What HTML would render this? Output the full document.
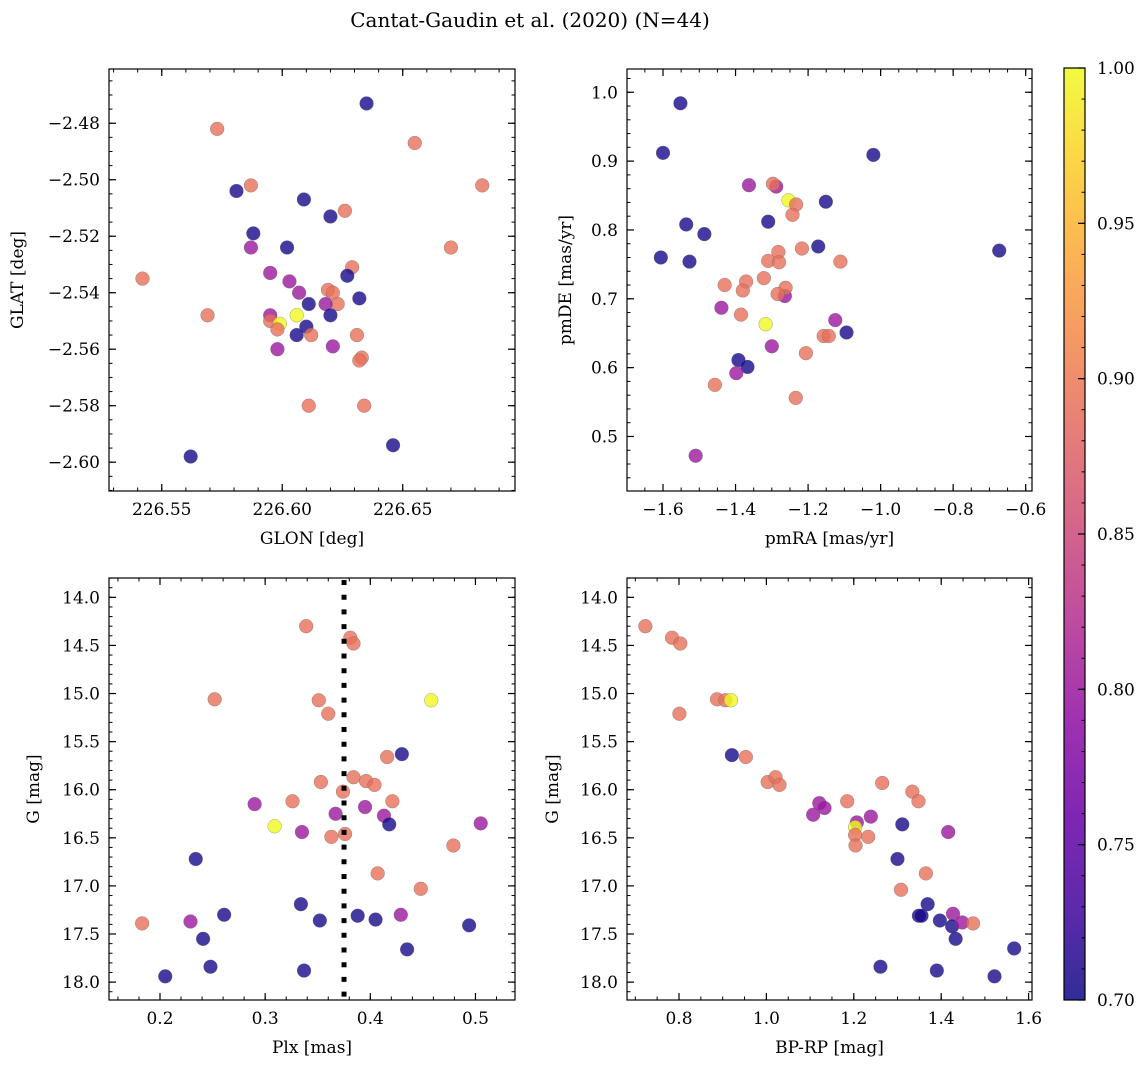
<!DOCTYPE html>
<html><head><meta charset="utf-8"><style>
html,body{margin:0;padding:0;background:#fff;overflow:hidden;width:1148px;height:1068px;}
svg{display:block;}
svg text{font-family:"DejaVu Serif","Liberation Serif",serif;fill:#000;}
</style></head><body>
<svg id="fig" width="1148" height="1068" xmlns="http://www.w3.org/2000/svg">
<defs>
<linearGradient id="plasmaGrad" x1="0" y1="1" x2="0" y2="0">
<stop offset="0" stop-color="#0d0887"/><stop offset="0.1" stop-color="#41049d"/><stop offset="0.2" stop-color="#6a00a8"/><stop offset="0.3" stop-color="#8f0da4"/><stop offset="0.4" stop-color="#b12a90"/><stop offset="0.5" stop-color="#cc4778"/><stop offset="0.6" stop-color="#e16462"/><stop offset="0.7" stop-color="#f2844b"/><stop offset="0.8" stop-color="#fca636"/><stop offset="0.9" stop-color="#fcce25"/><stop offset="1" stop-color="#f0f921"/>
</linearGradient>
</defs>
<text x="530" y="27" font-size="20" text-anchor="middle">Cantat-Gaudin et al. (2020) (N=44)</text>
</svg>
<script>
const B=0.705,P=0.80,O=0.89,Y=1.0;
// Panel 1: GLON vs GLAT
const p1_glon=[226.635,226.573,226.655,226.683,226.587,226.581,226.609,226.626,226.620,226.588,226.587,226.602,226.670,226.542,226.595,226.629,226.627,226.603,226.607,226.619,226.621,226.623,226.632,226.611,226.618,226.620,226.569,226.595,226.606,226.595,226.599,226.598,226.610,226.606,226.612,226.631,226.598,226.621,226.633,226.632,226.611,226.634,226.646,226.562];
const p1_glat=[-2.473,-2.482,-2.487,-2.502,-2.502,-2.504,-2.507,-2.511,-2.513,-2.519,-2.524,-2.524,-2.524,-2.535,-2.533,-2.531,-2.534,-2.536,-2.540,-2.539,-2.540,-2.544,-2.542,-2.544,-2.544,-2.548,-2.548,-2.548,-2.548,-2.550,-2.551,-2.553,-2.552,-2.555,-2.555,-2.555,-2.560,-2.559,-2.563,-2.564,-2.580,-2.580,-2.594,-2.598];
const p1_prob=[B,O,O,O,O,B,B,O,B,B,P,B,O,O,P,O,B,P,P,O,O,O,B,B,P,B,O,P,Y,O,Y,O,B,B,O,O,P,P,O,O,O,O,B,B];
// Panel 2: pmRA vs pmDE
const p2_pmra=[-1.552,-1.600,-1.020,-1.363,-1.288,-1.297,-1.254,-1.233,-1.151,-1.243,-1.536,-1.310,-1.486,-1.606,-1.527,-1.172,-1.217,-1.282,-0.673,-1.310,-1.280,-1.111,-1.322,-1.371,-1.430,-1.264,-1.262,-1.380,-1.284,-1.439,-1.385,-1.125,-1.317,-1.157,-1.143,-1.094,-1.300,-1.206,-1.392,-1.367,-1.398,-1.457,-1.234,-1.510];
const p2_pmde=[0.984,0.912,0.909,0.865,0.863,0.867,0.843,0.837,0.841,0.822,0.808,0.812,0.794,0.760,0.754,0.776,0.773,0.768,0.770,0.755,0.753,0.754,0.730,0.725,0.720,0.704,0.716,0.712,0.707,0.687,0.677,0.669,0.663,0.646,0.646,0.651,0.631,0.621,0.611,0.601,0.592,0.575,0.556,0.472];
const p2_prob=[B,B,B,P,P,O,Y,O,B,O,B,B,B,B,B,B,O,O,B,O,O,O,O,O,O,P,O,O,O,P,O,P,Y,O,O,B,P,O,B,B,P,O,O,P];
// Panel 3: Plx vs G
const p3_plx=[0.339,0.381,0.384,0.252,0.351,0.458,0.360,0.430,0.416,0.353,0.384,0.396,0.404,0.374,0.290,0.326,0.421,0.395,0.367,0.413,0.418,0.505,0.309,0.335,0.376,0.363,0.479,0.234,0.407,0.448,0.334,0.261,0.429,0.388,0.352,0.405,0.183,0.229,0.494,0.241,0.435,0.248,0.205,0.337];
const p3_g=[14.30,14.42,14.48,15.06,15.07,15.07,15.21,15.63,15.66,15.92,15.87,15.91,15.95,16.02,16.15,16.12,16.12,16.18,16.25,16.27,16.36,16.35,16.38,16.44,16.46,16.49,16.58,16.72,16.87,17.03,17.19,17.30,17.30,17.31,17.36,17.35,17.39,17.37,17.41,17.55,17.66,17.84,17.94,17.88];
const p3_prob=[O,O,O,O,O,Y,O,B,O,O,O,O,O,O,P,O,O,P,P,P,B,P,Y,P,O,O,O,B,O,O,B,B,P,B,B,B,O,P,B,B,B,B,B,B];
const p3_meanPlx=0.375;
// Panel 4: BP-RP vs G
const p4_bprp=[0.723,0.784,0.803,0.887,0.906,0.919,0.801,0.921,0.953,1.003,1.021,1.030,1.265,1.334,1.348,1.185,1.121,1.133,1.107,1.207,1.239,1.311,1.203,1.416,1.203,1.233,1.204,1.300,1.365,1.308,1.369,1.349,1.355,1.427,1.397,1.425,1.448,1.473,1.433,1.567,1.261,1.390,1.522];
const p4_g=[14.30,14.42,14.48,15.06,15.07,15.07,15.21,15.64,15.66,15.92,15.87,15.95,15.93,16.02,16.12,16.12,16.14,16.19,16.26,16.34,16.28,16.36,16.39,16.44,16.47,16.49,16.58,16.72,16.87,17.04,17.19,17.31,17.31,17.29,17.36,17.42,17.38,17.39,17.55,17.65,17.84,17.88,17.94];
const p4_prob=[O,O,O,O,O,Y,O,B,O,O,O,O,O,O,O,O,P,P,P,P,P,B,Y,P,O,O,O,B,O,O,B,B,B,P,B,B,P,O,B,B,B,B,B];
// Tick arrays
const p1_xticks=[226.55,226.60,226.65];
const p1_yticks=[-2.48,-2.50,-2.52,-2.54,-2.56,-2.58,-2.60];
const p2_xticks=[-1.6,-1.4,-1.2,-1.0,-0.8,-0.6];
const p2_yticks=[1.0,0.9,0.8,0.7,0.6,0.5];
const p3_xticks=[0.2,0.3,0.4,0.5];
const g_yticks=[14.0,14.5,15.0,15.5,16.0,16.5,17.0,17.5,18.0];
const p4_xticks=[0.8,1.0,1.2,1.4,1.6];
const cb_ticks=[0.70,0.75,0.80,0.85,0.90,0.95,1.00];

const NS="http://www.w3.org/2000/svg";
const svg=document.getElementById('fig');
function mk(tag,attrs,parent){const e=document.createElementNS(NS,tag);for(const k in attrs)e.setAttribute(k,attrs[k]);(parent||svg).appendChild(e);return e;}
const stops=[[0,[13,8,135]],[0.1,[65,4,157]],[0.2,[106,0,168]],[0.3,[143,13,164]],[0.4,[177,42,144]],[0.5,[204,71,120]],[0.6,[225,100,98]],[0.7,[242,132,75]],[0.8,[252,166,54]],[0.9,[252,206,37]],[1.0,[240,249,33]]];
function plasma(p){let t=Math.max(0,Math.min(1,(p-0.7)/0.3));for(let i=0;i<stops.length-1;i++){const a=stops[i],b=stops[i+1];if(t<=b[0]){const f=(t-a[0])/(b[0]-a[0]);const c=a[1].map((v,j)=>Math.round(v+(b[1][j]-v)*f));return `rgb(${c[0]},${c[1]},${c[2]})`;}}return 'rgb(240,249,33)';}
function fmt(v,d){return v.toFixed(d).replace('-','\u2212');}

function panel(cfg){
  const g=mk('g',{});
  
  
  const {x0,x1,y0,y1,xmin,xmax,ymin,ymax}=cfg;
  const sx=v=>x0+(v-xmin)/(xmax-xmin)*(x1-x0);
  const sy=cfg.invert ? (v=>y0+(v-ymin)/(ymax-ymin)*(y1-y0)) : (v=>y1-(v-ymin)/(ymax-ymin)*(y1-y0));
  for(let i=0;i<cfg.xs.length;i++){
    const c=mk('circle',{cx:sx(cfg.xs[i]),cy:sy(cfg.ys[i]),r:6.9,fill:plasma(cfg.cs[i]),'fill-opacity':0.8,stroke:'#666','stroke-opacity':0.6,'stroke-width':0.5},g);
    
    
  }
  if(cfg.vline!==undefined){
    const l=mk('line',{x1:sx(cfg.vline),x2:sx(cfg.vline),y1:y0+2,y2:y1,stroke:'#000','stroke-width':5,'stroke-dasharray':'5 9.7'},g);
    
    
  }
  const fr=mk('rect',{x:x0,y:y0,width:x1-x0,height:y1-y0,fill:'none',stroke:'#000','stroke-width':1.2},g);
  
  
  const mstep=cfg.xminor, ystep=cfg.yminor;
  for(let k=Math.ceil(xmin/mstep-1e-6);k*mstep<=xmax+1e-9;k++){const X=sx(k*mstep);
    mk('line',{x1:X,x2:X,y1:y1,y2:y1-3.5,stroke:'#000','stroke-width':1},g);mk('line',{x1:X,x2:X,y1:y0,y2:y0+3.5,stroke:'#000','stroke-width':1},g);}
  for(let k=Math.ceil(ymin/ystep-1e-6);k*ystep<=ymax+1e-9;k++){const Yp=sy(k*ystep);
    mk('line',{x1:x0,x2:x0+3.5,y1:Yp,y2:Yp,stroke:'#000','stroke-width':1},g);mk('line',{x1:x1,x2:x1-3.5,y1:Yp,y2:Yp,stroke:'#000','stroke-width':1},g);}
  cfg.xticks.forEach(v=>{const X=sx(v);
    mk('line',{x1:X,x2:X,y1:y1,y2:y1-7,stroke:'#000','stroke-width':1.2},g);mk('line',{x1:X,x2:X,y1:y0,y2:y0+7,stroke:'#000','stroke-width':1.2},g);
    const t=mk('text',{x:X,y:y1+24,'font-size':17,'text-anchor':'middle'},g);t.textContent=fmt(v,cfg.xd);
    
    });
  cfg.yticks.forEach(v=>{const Yp=sy(v);
    mk('line',{x1:x0,x2:x0+7,y1:Yp,y2:Yp,stroke:'#000','stroke-width':1.2},g);mk('line',{x1:x1,x2:x1-7,y1:Yp,y2:Yp,stroke:'#000','stroke-width':1.2},g);
    const t=mk('text',{x:x0-9,y:Yp+6,'font-size':17,'text-anchor':'end'},g);t.textContent=fmt(v,cfg.yd);
    
    });
  const xl=mk('text',{x:(x0+x1)/2,y:y1+53,'font-size':17,'text-anchor':'middle'},g);xl.textContent=cfg.xlabel;
  
  
  const yl=mk('text',{x:cfg.ylx,y:(y0+y1)/2,'font-size':17,'text-anchor':'middle',transform:`rotate(-90 ${cfg.ylx} ${(y0+y1)/2})`},g);yl.textContent=cfg.ylabel;
  
  
}

panel({name:'glon-glat-panel',x0:109,x1:515,y0:69,y1:491,xmin:226.5281,xmax:226.6966,ymin:-2.6102,ymax:-2.4608,xs:p1_glon,ys:p1_glat,cs:p1_prob,xticks:p1_xticks,yticks:p1_yticks,xd:2,yd:2,xminor:0.01,yminor:0.005,xlabel:'GLON [deg]',ylabel:'GLAT [deg]',ylx:23});
panel({name:'proper-motion-panel',x0:627,x1:1032,y0:69,y1:491,xmin:-1.6993,xmax:-0.5826,ymin:0.4208,ymax:1.0338,xs:p2_pmra,ys:p2_pmde,cs:p2_prob,xticks:p2_xticks,yticks:p2_yticks,xd:1,yd:1,xminor:0.05,yminor:0.02,xlabel:'pmRA [mas/yr]',ylabel:'pmDE [mas/yr]',ylx:571});
panel({name:'parallax-mag-panel',x0:109,x1:515,y0:578,y1:1000,xmin:0.1515,xmax:0.5376,ymin:13.799,ymax:18.186,xs:p3_plx,ys:p3_g,cs:p3_prob,xticks:p3_xticks,yticks:g_yticks,xd:1,yd:1,xminor:0.02,yminor:0.1,xlabel:'Plx [mas]',ylabel:'G [mag]',ylx:39,vline:p3_meanPlx,invert:true});
panel({name:'cmd-panel',x0:627,x1:1032,y0:578,y1:1000,xmin:0.681,xmax:1.6078,ymin:13.799,ymax:18.186,xs:p4_bprp,ys:p4_g,cs:p4_prob,xticks:p4_xticks,yticks:g_yticks,xd:1,yd:1,xminor:0.05,yminor:0.1,xlabel:'BP-RP [mag]',ylabel:'G [mag]',ylx:558,invert:true});

// Colorbar
(function(){
  const cx0=1064,cx1=1085,cy0=68,cy1=1000,vmin=0.70,vmax=1.00;
  const cy=v=>cy1-(v-vmin)/(vmax-vmin)*(cy1-cy0);
  const g=mk('g',{});
  
  
  const r=mk('rect',{x:cx0,y:cy0,width:cx1-cx0,height:cy1-cy0,fill:'url(#plasmaGrad)','fill-opacity':0.85,stroke:'#000','stroke-width':1.2},g);
  
  
  for(let k=70;k<=100;k++){const Yp=cy(k/100);
    mk('line',{x1:cx1,x2:cx1-3.5,y1:Yp,y2:Yp,stroke:'#000','stroke-width':1},g);}
  cb_ticks.forEach(v=>{const Yp=cy(v);
    mk('line',{x1:cx1,x2:cx1-7,y1:Yp,y2:Yp,stroke:'#000','stroke-width':1.2},g);
    const t=mk('text',{x:cx1+12,y:Yp+6,'font-size':17},g);t.textContent=v.toFixed(2);
    
    });
})();
</script>
</body></html>
